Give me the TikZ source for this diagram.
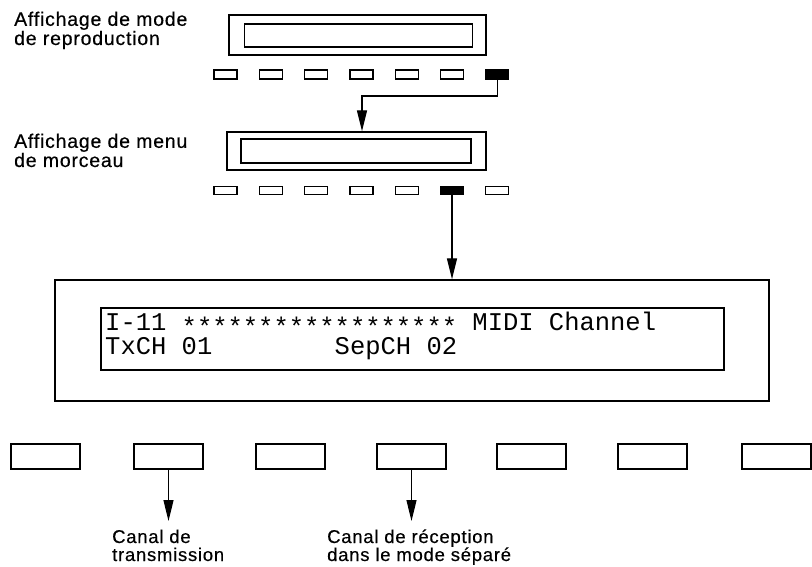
\documentclass[tikz,border=0pt]{standalone}
\usepackage{fontspec}
\usetikzlibrary{arrows.meta}
\newfontfamily\labfont{Liberation Sans}[LetterSpace=4,FakeBold=0.4]
\newfontfamily\lcdfont{Liberation Mono}
\tikzset{
  box/.style={draw, line width=1.3pt, rectangle, inner sep=0pt},
  btn/.style={box, minimum width=23pt, minimum height=9pt},
  onbtn/.style={btn, fill=black},
  bigbtn/.style={box, minimum width=69pt, minimum height=25pt},
  arr/.style={line width=1.2pt, -{Triangle[length=21pt,width=10pt]}},
  lab/.style={anchor=base west, inner sep=0pt, align=left, font=\labfont\fontsize{19.5}{18}\selectfont},
  blab/.style={lab, font=\labfont\fontsize{18.5}{18}\selectfont},
  lcd/.style={anchor=base west, inner sep=0pt, align=left, font=\lcdfont\fontsize{25.5}{21}\selectfont}
}
\begin{document}
\begin{tikzpicture}[x=1pt,y=-1pt]
\useasboundingbox (0,0) rectangle (812,567);
\fill[white] (0,0) rectangle (812,567);

% labels (anchor = baseline of last line)
\node[lab] (l1) at (14,45) {Affichage de mode\\de reproduction};
\node[lab] (l2) at (14,167) {Affichage de menu\\de morceau};

% display 1
\node[box, minimum width=257pt, minimum height=40pt] (d1) at (357.5,35) {};
\node[box, minimum width=228pt, minimum height=23pt] (d1i) at (358.5,35.5) {};
\foreach \i in {1,...,6} {
  \node[btn] (a\i) at ({225.5+45.3*(\i-1)},74.5) {};
}
\node[onbtn] (a7) at ({225.5+45.3*6},74.5) {};

% display 2
\node[box, minimum width=259pt, minimum height=38pt] (d2) at (356.5,151) {};
\node[box, minimum width=230pt, minimum height=24pt] (d2i) at (356,151) {};
\foreach \i in {1,2,3,4,5,7} {
  \node[btn, minimum height=7.5pt] (b\i) at ({225.5+45.3*(\i-1)},190.5) {};
}
\node[onbtn, minimum height=7.5pt] (b6) at ({225.5+45.3*5},190.5) {};

% big display
\node[box, minimum width=714pt, minimum height=121pt] (d3) at (412,340.5) {};
\node[box, minimum width=623pt, minimum height=62pt] (d3i) at (412.5,339) {};
\node[lcd] (t1) at (105,354) {I-11 \raisebox{-5pt}{******************} MIDI Channel\\TxCH 01\ \ \ \ \ \ \ \ SepCH 02};

% bottom buttons
\foreach \i/\x in {1/45.5,2/168.5,3/290.5,4/411.5,5/531.5,6/652.5,7/776.5} {
  \node[bigbtn] (c\i) at (\x,456.5) {};
}

% connectors
\coordinate (k1) at (362,96);
\draw[arr] (a7.south) |- (k1) -- (k1 |- d2.north);
\draw[arr] (b6.south) -- (b6.south |- d3.north);
\coordinate (e1) at (168.5,521);
\coordinate (e2) at (411.5,521);
\draw[arr] (c2.south) -- (e1);
\draw[arr] (c4.south) -- (e2);

% bottom labels
\node[blab] (m1) at (112,561) {Canal de\\transmission};
\node[blab] (m2) at (327,561) {Canal de réception\\dans le mode séparé};
\end{tikzpicture}
\end{document}
